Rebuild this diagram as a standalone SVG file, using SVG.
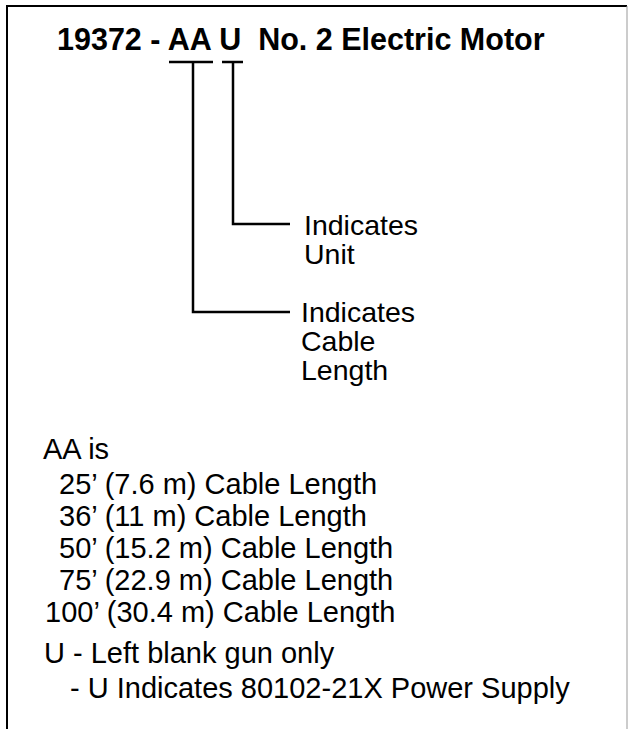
<svg xmlns="http://www.w3.org/2000/svg" width="629" height="729" viewBox="0 0 629 729">
<style>
.t{font-family:"Liberation Sans",Arial,sans-serif;font-size:29px;fill:#000}
.l{font-family:"Liberation Sans",Arial,sans-serif;font-size:28.5px;fill:#000}
.b{font-family:"Liberation Sans",Arial,sans-serif;font-size:30.5px;font-weight:bold;fill:#000;white-space:pre}
.ln{stroke:#000;stroke-width:2.5;fill:none}
</style>
<rect width="629" height="729" fill="#fff"/>
<path d="M7,729 V6 H627" stroke="#000" stroke-width="2" fill="none"/>
<path d="M627,6 V729" stroke="#999" stroke-width="1" fill="none"/>
<g id="title">
<text class="b" x="57" y="50" xml:space="preserve">19372 - AA U  No. 2 Electric Motor</text>
</g>
<g id="connectors">
<path class="ln" d="M169,62 H213 M222,62 H243"/>
<path class="ln" d="M233,62 V224 H290"/>
<path class="ln" d="M193,62 V312 H290"/>
</g>
<g id="unit">
<text class="l" x="304" y="235">Indicates</text>
<text class="l" x="304" y="264">Unit</text>
</g>
<g id="cable">
<text class="l" x="301" y="322">Indicates</text>
<text class="l" x="301" y="351">Cable</text>
<text class="l" x="301" y="380">Length</text>
</g>
<g id="legend">
<text class="t" x="43" y="459">AA is</text>
<text class="t" x="59" y="494">25’ (7.6 m) Cable Length</text>
<text class="t" x="59" y="526">36’ (11 m) Cable Length</text>
<text class="t" x="59" y="558">50’ (15.2 m) Cable Length</text>
<text class="t" x="59" y="590">75’ (22.9 m) Cable Length</text>
<text class="t" x="45" y="622">100’ (30.4 m) Cable Length</text>
<text class="t" x="44" y="663">U - Left blank gun only</text>
<text class="t" x="70" y="698">- U Indicates 80102-21X Power Supply</text>
</g>
</svg>
